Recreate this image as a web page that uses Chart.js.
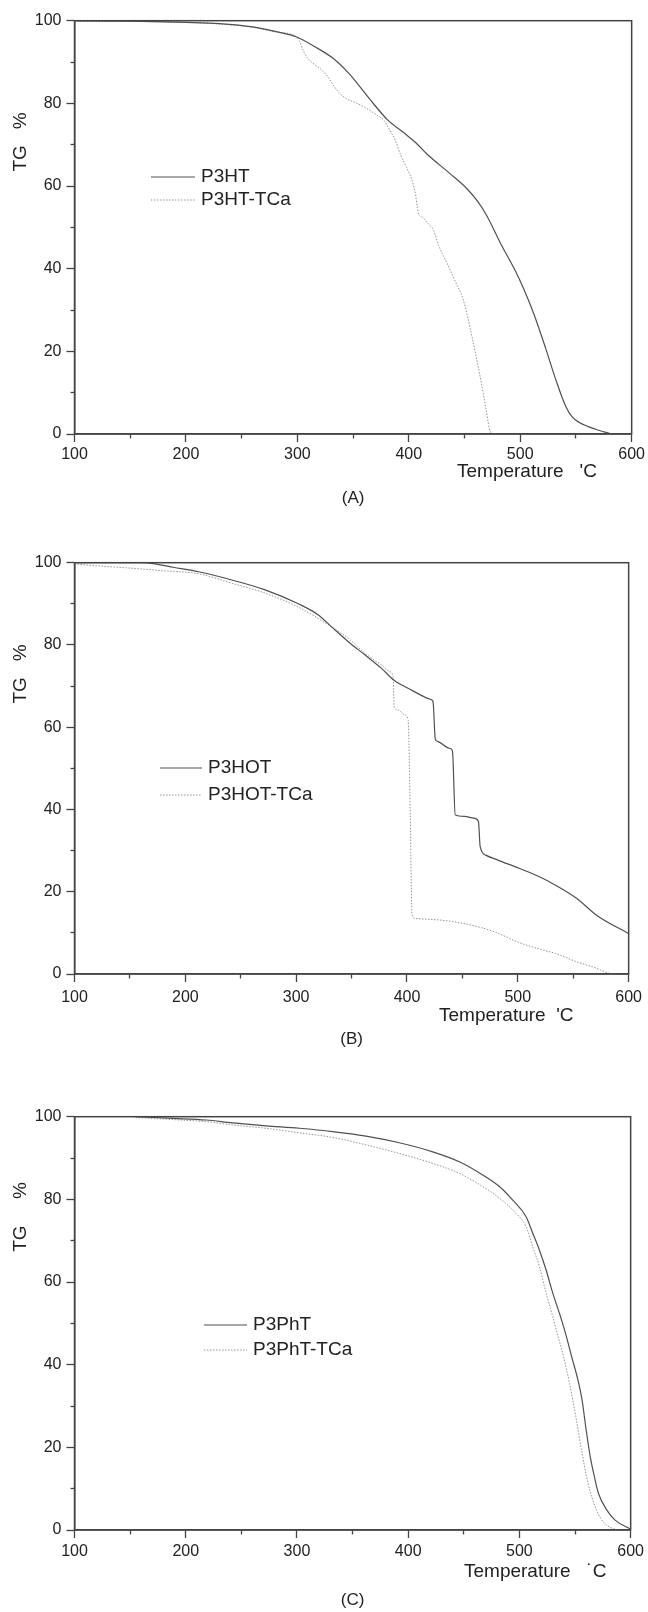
<!DOCTYPE html>
<html>

<head>
    <meta charset="utf-8">
    <title>TG curves</title>
    <script src="https://cdn.jsdelivr.net/npm/chart.js"></script>
    <style>
        html, body {
            margin: 0;
            padding: 0;
            background: #fff;
        }

        canvas {
            display: block;
        }
    </style>
</head>

<body>
    <canvas id="chartA" width="648" height="536"></canvas>
    <canvas id="chartB" width="648" height="536"></canvas>
    <canvas id="chartC" width="648" height="540"></canvas>

    <script>
        // tick labels shown on the axes (minor ticks sit halfway between)
        const xTickLabels = [100, 200, 300, 400, 500, 600];
        const yTickLabels = [0, 20, 40, 60, 80, 100];

        // (A) P3HT / P3HT-TCa
        const tempP3HT = [100, 150, 200, 230, 260, 280, 300, 315, 332, 347, 365, 381, 395, 407, 416, 437, 452, 462, 470, 483, 495, 503, 512, 523, 532, 541, 547, 553, 567, 582];
        const tgP3HT = [100, 99.9, 99.6, 99.3, 98.5, 97.4, 96, 93.8, 90.9, 87, 81, 76, 73, 70.3, 67.8, 63, 59.4, 56.2, 52.8, 45.8, 39.8, 35.2, 29.2, 20.6, 13.1, 6.6, 4, 2.8, 1.2, 0];
        const tempP3HTTCa = [100, 150, 200, 230, 260, 280, 298, 302, 305, 309, 314, 320, 326, 332, 338, 345, 352, 362, 371, 378, 383, 388, 393, 398, 403, 406, 407.5, 409, 412, 417, 422, 427, 434, 441, 449, 456, 464, 469.5, 473, 476, 480];
        const tgP3HTTCa = [99.8, 99.8, 99.6, 99.2, 98.4, 97.3, 96.3, 95, 92.9, 91, 89.7, 88.5, 86.9, 84.5, 82.4, 81, 80.2, 78.8, 77.2, 75.8, 73.5, 71, 67.3, 64.5, 61.3, 58, 55.2, 53, 52.5, 51, 49.4, 45.5, 41.5, 37.3, 32.4, 24.4, 13.9, 5.8, 0.6, 0, 0];

        // (B) P3HOT / P3HOT-TCa
        const tempP3HOT = [100, 160, 175, 189, 212, 242, 272, 302, 320, 332, 347, 362, 377, 388, 395, 407, 421, 423.5, 425.5, 428, 438, 441, 443.5, 452, 460, 464.5, 466, 471, 482, 501, 519, 534, 553, 571, 600];
        const tgP3HOT = [100, 100, 99.6, 98.9, 97.8, 95.8, 93.4, 90, 87.3, 84.4, 80.8, 77.6, 74.3, 71.5, 70.3, 68.6, 66.8, 66.2, 57.2, 56.5, 54.9, 54.3, 38.7, 38.3, 37.9, 37.1, 31, 28.9, 27.7, 25.7, 23.7, 21.6, 18.4, 14.3, 9.8];
        const tempP3HOTTCa = [100, 122, 150, 177, 212, 242, 272, 302, 332, 347, 362, 377, 384.5, 387.5, 388.5, 392, 398, 401, 403, 404.5, 407.5, 420, 434, 452.6, 478.5, 500.7, 523, 534, 552.7, 570, 582, 590];
        const tgP3HOTTCa = [99.7, 99.2, 98.7, 98.1, 97.3, 95, 92.6, 89.2, 84.4, 81.6, 78, 75.1, 73.5, 72.3, 64.8, 64.2, 63, 61.8, 38, 14.5, 13.5, 13.3, 13, 12.2, 10.3, 7.7, 5.8, 5, 3, 1.5, 0.2, 0];

        // (C) P3PhT / P3PhT-TCa
        const tempP3PhT = [155, 188.5, 218.5, 242, 272, 302, 332, 362, 392, 422, 446, 467, 482, 494, 506, 512, 518, 524, 530, 536, 541.5, 547, 552.6, 556.3, 560, 563.7, 567.4, 571, 578.6, 586, 600];
        const tgP3PhT = [100, 99.6, 99.2, 98.5, 97.8, 97.2, 96.4, 95.3, 93.7, 91.5, 89.1, 85.9, 83.1, 79.8, 75.8, 71.8, 67.7, 62.9, 57.3, 52.4, 47.5, 41.9, 36.3, 31.5, 24.2, 17.7, 12.9, 8.9, 4.8, 2.4, 0.2];
        const tempP3PhTTCa = [155, 188.5, 218.5, 242, 272, 302, 332, 362, 392, 422, 446, 467, 482, 497, 506, 512, 518, 524, 530, 534, 539.7, 545, 550.7, 556.3, 561.7, 569.3, 576.6, 586, 592];
        const tgP3PhTTCa = [99.8, 99.3, 98.8, 98, 97.2, 96.1, 95, 93.2, 91.1, 88.7, 86.3, 83.1, 80.3, 76.6, 73.4, 68.5, 63.7, 57.3, 51.6, 47.5, 41.9, 35.5, 27.4, 18.6, 11.3, 4.8, 1.6, 0.2, 0];

        const AXIS = '#444';
        const SOLID = '#505050';
        const DOTTED = '#959595';
        const TEXT = '#222';
        const FONT = '"Liberation Sans", Arial, sans-serif';

        function points(ts, vs) {
            return ts.map((t, i) => ({ x: t, y: vs[i] }));
        }

        function solidLine(label, ts, vs) {
            return {
                label: label,
                data: points(ts, vs),
                borderColor: SOLID,
                borderWidth: 1.2,
                pointRadius: 0,
                cubicInterpolationMode: 'monotone',
                fill: false
            };
        }

        function dottedLine(label, ts, vs) {
            return {
                label: label,
                data: points(ts, vs),
                borderColor: DOTTED,
                borderWidth: 1,
                borderDash: [1.5, 1.5],
                pointRadius: 0,
                cubicInterpolationMode: 'monotone',
                fill: false
            };
        }

        // frame, axis titles, caption and legend
        const decorations = {
            id: 'decorations',
            afterDraw(chart, args, o) {
                const ctx = chart.ctx;
                const a = chart.chartArea;
                ctx.save();
                ctx.strokeStyle = AXIS;
                ctx.lineWidth = 1.5;
                ctx.strokeRect(a.left, a.top, a.right - a.left, a.bottom - a.top);

                ctx.fillStyle = TEXT;
                ctx.font = '19px ' + FONT;
                ctx.save();
                ctx.translate(o.yTitleX, a.top + o.yTitleDy);
                ctx.rotate(-Math.PI / 2);
                ctx.textAlign = 'center';
                ctx.textBaseline = 'middle';
                ctx.fillText(o.yTitle, 0, 0);
                ctx.restore();

                ctx.textAlign = 'left';
                ctx.textBaseline = 'middle';
                ctx.fillText(o.xTitle, o.xTitleX, a.bottom + o.xTitleDy);

                ctx.font = '17px ' + FONT;
                ctx.textAlign = 'center';
                ctx.fillText(o.caption, (a.left + a.right) / 2, a.bottom + o.captionDy);

                ctx.font = '19px ' + FONT;
                ctx.textAlign = 'left';
                chart.data.datasets.forEach((ds, i) => {
                    const y = a.top + o.legendDy + i * o.legendGap;
                    ctx.beginPath();
                    ctx.setLineDash(ds.borderDash || []);
                    ctx.strokeStyle = ds.borderColor;
                    ctx.lineWidth = ds.borderWidth;
                    ctx.moveTo(o.legendX1, y);
                    ctx.lineTo(o.legendX2, y);
                    ctx.stroke();
                    ctx.setLineDash([]);
                    ctx.fillText(ds.label, o.legendX2 + 6, y);
                });
                ctx.restore();
            }
        };

        function isMinor(c, labels) {
            return c.tick && !labels.includes(c.tick.value);
        }

        function makeChart(id, datasets, lay, deco) {
            return new Chart(document.getElementById(id), {
                type: 'line',
                data: { datasets: datasets },
                plugins: [decorations],
                options: {
                    responsive: false,
                    animation: false,
                    layout: { padding: { top: lay.top, right: 16.3, left: 0, bottom: 0 } },
                    plugins: {
                        legend: { display: false },
                        tooltip: { enabled: false },
                        decorations: deco
                    },
                    scales: {
                        x: {
                            type: 'linear',
                            min: 100,
                            max: 600,
                            afterFit: s => { s.height = lay.xHeight; },
                            border: { color: AXIS, width: 1.5 },
                            grid: {
                                drawOnChartArea: false,
                                tickLength: 8,
                                tickColor: AXIS,
                                tickWidth: 1.3,
                                tickBorderDash: c => isMinor(c, xTickLabels) ? [4, 8] : []
                            },
                            ticks: {
                                stepSize: 50,
                                autoSkip: false,
                                maxRotation: 0,
                                padding: lay.xPad,
                                color: TEXT,
                                font: { size: 16, family: FONT },
                                callback: v => xTickLabels.includes(v) ? v : ''
                            }
                        },
                        y: {
                            min: 0,
                            max: 100,
                            afterFit: s => { s.width = 74.5; },
                            border: { color: AXIS, width: 1.5 },
                            grid: {
                                drawOnChartArea: false,
                                tickLength: 8,
                                tickColor: AXIS,
                                tickWidth: 1.3,
                                tickBorderDash: c => isMinor(c, yTickLabels) ? [4, 4] : [],
                                tickBorderDashOffset: c => isMinor(c, yTickLabels) ? 4 : 0
                            },
                            ticks: {
                                stepSize: 10,
                                autoSkip: false,
                                padding: 5,
                                color: TEXT,
                                font: { size: 16, family: FONT },
                                callback: v => yTickLabels.includes(v) ? v : ''
                            }
                        }
                    }
                }
            });
        }

        makeChart('chartA', [
            solidLine('P3HT', tempP3HT, tgP3HT),
            dottedLine('P3HT-TCa', tempP3HTTCa, tgP3HTTCa)
        ], { top: 20.7, xHeight: 102, xPad: 3 }, {
            yTitle: 'TG   %', yTitleX: 21, yTitleDy: 121.3,
            xTitle: 'Temperature   \'C', xTitleX: 457, xTitleDy: 38,
            caption: '(A)', captionDy: 64,
            legendX1: 151, legendX2: 195, legendDy: 156.3, legendGap: 23
        });

        makeChart('chartB', [
            solidLine('P3HOT', tempP3HOT, tgP3HOT),
            dottedLine('P3HOT-TCa', tempP3HOTTCa, tgP3HOTTCa)
        ], { top: 26.7, xHeight: 98, xPad: 6 }, {
            yTitle: 'TG   %', yTitleX: 21, yTitleDy: 111.3,
            xTitle: 'Temperature  \'C', xTitleX: 439, xTitleDy: 42,
            caption: '(B)', captionDy: 65,
            legendX1: 160, legendX2: 202, legendDy: 205.3, legendGap: 27
        });

        makeChart('chartC', [
            solidLine('P3PhT', tempP3PhT, tgP3PhT),
            dottedLine('P3PhT-TCa', tempP3PhTTCa, tgP3PhTTCa)
        ], { top: 44.7, xHeight: 82, xPad: 4 }, {
            yTitle: 'TG     %', yTitleX: 21, yTitleDy: 100.3,
            xTitle: 'Temperature   \u02D9C', xTitleX: 464, xTitleDy: 42,
            caption: '(C)', captionDy: 70,
            legendX1: 204, legendX2: 247, legendDy: 208.3, legendGap: 25
        });
    </script>
</body>

</html>
